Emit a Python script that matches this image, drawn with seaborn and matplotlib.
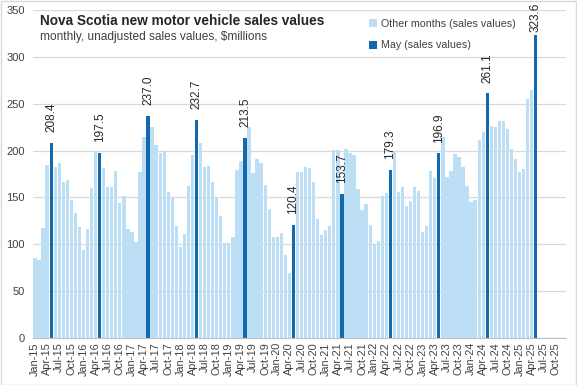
import matplotlib
matplotlib.use("Agg")
import matplotlib.pyplot as plt
from matplotlib.patches import Patch, Rectangle
import seaborn as sns
import pandas as pd
import numpy as np

# ---- data ----
years = [2015, 2016, 2017, 2018, 2019, 2020, 2021, 2022, 2023, 2024, 2025]
month_names = ["Jan", "Feb", "Mar", "Apr", "May", "Jun",
               "Jul", "Aug", "Sep", "Oct", "Nov", "Dec"]

sales_2015 = [85.0, 83.5, 117.0, 185.0, 208.4, 183.0, 187.0, 166.0, 169.0, 147.0, 133.0, 118.0]
sales_2016 = [94.0, 116.0, 159.6, 199.0, 197.5, 181.0, 161.0, 161.0, 177.7, 144.0, 151.3, 116.2]
sales_2017 = [113.0, 102.5, 177.0, 215.0, 237.0, 225.4, 206.4, 197.2, 199.3, 155.5, 149.5, 119.4]
sales_2018 = [97.5, 111.0, 161.8, 195.8, 232.7, 207.8, 183.0, 184.0, 166.4, 150.0, 130.0, 101.0]
sales_2019 = [101.0, 108.0, 178.8, 189.4, 213.5, 224.7, 176.0, 190.5, 187.0, 163.0, 137.4, 107.5]
sales_2020 = [107.5, 111.6, 88.5, 69.5, 120.4, 177.0, 177.0, 182.0, 181.0, 166.0, 126.6, 109.6]
sales_2021 = [115.0, 120.0, 200.7, 201.0, 153.7, 201.8, 197.9, 195.0, 158.5, 136.2, 143.3, 120.2]
sales_2022 = [99.6, 103.3, 151.8, 154.6, 179.3, 198.0, 155.3, 160.6, 140.4, 145.7, 160.6, 156.4]
sales_2023 = [112.8, 119.2, 178.7, 170.2, 196.9, 214.9, 172.3, 178.7, 196.0, 193.6, 183.0, 162.4]
sales_2024 = [145.0, 146.8, 211.7, 219.9, 261.1, 225.9, 224.8, 231.2, 231.2, 222.7, 202.1, 191.5]
sales_2025 = [177.0, 180.1, 254.6, 264.9, 323.6]

series_other = "Other months (sales values)"
series_may = "May (sales values)"

title = "Nova Scotia new motor vehicle sales values"
subtitle = "monthly, unadjusted sales values, $millions"

# ---- build table ----
all_sales = [sales_2015, sales_2016, sales_2017, sales_2018, sales_2019, sales_2020,
             sales_2021, sales_2022, sales_2023, sales_2024, sales_2025]
categories = [f"{m}-{str(y)[2:]}" for y in years for m in month_names]
rows = []
for y, vals in zip(years, all_sales):
    for m, v in zip(month_names, vals):
        rows.append({"month": f"{m}-{str(y)[2:]}", "value": v,
                     "series": series_may if m == "May" else series_other})
df = pd.DataFrame(rows)

light = "#BDDFF6"
dark = "#1469AE"
txt = "#404040"

sns.set_theme(style="white")
plt.rcParams["font.family"] = ["Liberation Sans", "DejaVu Sans"]

fig = plt.figure(figsize=(5.77, 3.85), dpi=100)
ax = fig.add_axes([33 / 577, 1 - 338 / 385, (566 - 33) / 577, (338 - 10) / 385])

sns.barplot(data=df, x="month", y="value", hue="series", order=categories,
            hue_order=[series_other, series_may], dodge=False,
            palette={series_other: light, series_may: dark},
            width=0.82, saturation=1, linewidth=0, legend=False, ax=ax)

# data labels on May bars (kept inside the chart area at the top)
may_df = df[df["series"] == series_may]
for _, r in may_df.iterrows():
    ypos = min(r["value"] + 11.5, 326.0)
    ax.text(categories.index(r["month"]), ypos, f"{r['value']:.1f}",
            rotation=90, ha="center", va="bottom", fontsize=8.5, color="#262626",
            clip_on=False)

ax.set_ylim(0, 350)
ax.set_xlim(-0.5, len(categories) - 0.5)
ax.set_yticks(np.arange(0, 351, 50))
ax.yaxis.grid(True, color="#D9D9D9", linewidth=0.9)
ax.set_axisbelow(True)
ax.set_xlabel("")
ax.set_ylabel("")

tick_pos = list(range(0, len(categories), 3))
ax.set_xticks(tick_pos)
ax.set_xticklabels([categories[i] for i in tick_pos], rotation=90, fontsize=7.8, color=txt)
ax.set_xticks([p - 0.5 for p in tick_pos] + [len(categories) - 0.5], minor=True)
ax.tick_params(axis="x", which="major", length=0, pad=3)
ax.tick_params(axis="x", which="minor", length=4, color="#BFBFBF", width=0.8, direction="out")
ax.tick_params(axis="y", length=0, labelsize=8, labelcolor=txt, pad=6)

for s in ["top", "right", "left"]:
    ax.spines[s].set_visible(False)
ax.spines["bottom"].set_color("#BFBFBF")
ax.spines["bottom"].set_linewidth(0.8)

# title & subtitle
fig.text(40 / 577, 1 - 21 / 385, title, fontsize=9.8, fontweight="bold",
         color="#262626", va="center", ha="left")
fig.text(40 / 577, 1 - 37 / 385, subtitle, fontsize=8.6, color=txt,
         va="center", ha="left")

# legend
handles = [Patch(facecolor=light, edgecolor="none", label=series_other),
           Patch(facecolor=dark, edgecolor="none", label=series_may)]
fig.legend(handles=handles, loc="upper left", bbox_to_anchor=(359 / 577, 1 - 9 / 385),
           frameon=False, fontsize=7.7, handlelength=0.8, handleheight=0.8,
           handletextpad=0.4, labelspacing=1.1, labelcolor=txt)

# chart border
fig.patches.append(Rectangle((0.001, 0.001), 0.997, 0.997, transform=fig.transFigure,
                             fill=False, edgecolor="#D9D9D9", linewidth=1))

fig.savefig("out.png", dpi=100)
